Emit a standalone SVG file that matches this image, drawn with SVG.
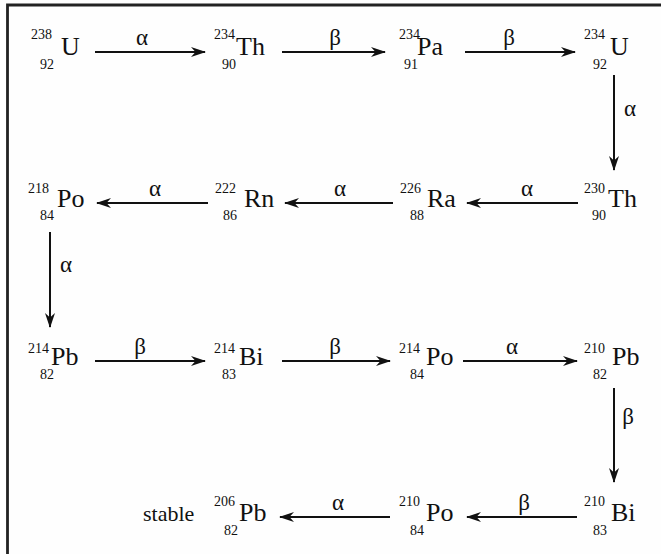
<svg xmlns="http://www.w3.org/2000/svg" width="661" height="554" viewBox="0 0 661 554">
<defs>
<marker id="ah" markerUnits="userSpaceOnUse" markerWidth="15" markerHeight="11" refX="14" refY="5.5" orient="auto">
<path d="M0,0.5 L15,5.5 L0,10.5 L4.5,5.5 Z" fill="#111"/>
</marker>
<style>
.el{font-family:"Liberation Serif",serif;font-size:26px;fill:#111}
.nu{font-family:"Liberation Serif",serif;font-size:14px;fill:#111}
.gr{font-family:"Liberation Serif",serif;font-size:23px;fill:#111;text-anchor:middle}
.ar{stroke:#111;stroke-width:2;fill:none;marker-end:url(#ah)}
</style>
</defs>
<rect width="661" height="554" fill="#fefefe"/>
<path d="M7.5,554 V5 H661" fill="none" stroke="#222" stroke-width="2.8"/>

<g id="U238"><text class="nu" x="31" y="39">238</text><text class="nu" x="40" y="69">92</text><text class="el" x="61" y="55">U</text></g>
<g id="Th234"><text class="nu" x="214" y="39">234</text><text class="nu" x="222" y="69">90</text><text class="el" x="236" y="55">Th</text></g>
<g id="Pa234"><text class="nu" x="399" y="39">234</text><text class="nu" x="404" y="69">91</text><text class="el" x="417" y="55">Pa</text></g>
<g id="U234"><text class="nu" x="584" y="39">234</text><text class="nu" x="593" y="69">92</text><text class="el" x="610" y="55">U</text></g>

<g id="Po218"><text class="nu" x="28" y="193">218</text><text class="nu" x="40" y="220">84</text><text class="el" x="57" y="207">Po</text></g>
<g id="Rn222"><text class="nu" x="215" y="193">222</text><text class="nu" x="223" y="220">86</text><text class="el" x="244" y="207">Rn</text></g>
<g id="Ra226"><text class="nu" x="400" y="193">226</text><text class="nu" x="410" y="220">88</text><text class="el" x="427" y="207">Ra</text></g>
<g id="Th230"><text class="nu" x="584" y="193">230</text><text class="nu" x="592" y="220">90</text><text class="el" x="608" y="207">Th</text></g>

<g id="Pb214"><text class="nu" x="28" y="353">214</text><text class="nu" x="40" y="379">82</text><text class="el" x="51" y="365">Pb</text></g>
<g id="Bi214"><text class="nu" x="214" y="353">214</text><text class="nu" x="222" y="379">83</text><text class="el" x="239" y="365">Bi</text></g>
<g id="Po214"><text class="nu" x="399" y="353">214</text><text class="nu" x="410" y="379">84</text><text class="el" x="426" y="365">Po</text></g>
<g id="Pb210"><text class="nu" x="584" y="353">210</text><text class="nu" x="593" y="379">82</text><text class="el" x="612" y="365">Pb</text></g>

<g id="stable"><text class="el" x="143" y="521" style="font-size:22px">stable</text></g>
<g id="Pb206"><text class="nu" x="214" y="506">206</text><text class="nu" x="224" y="535">82</text><text class="el" x="239" y="521">Pb</text></g>
<g id="Po210"><text class="nu" x="399" y="506">210</text><text class="nu" x="410" y="535">84</text><text class="el" x="426" y="521">Po</text></g>
<g id="Bi210"><text class="nu" x="584" y="506">210</text><text class="nu" x="593" y="535">83</text><text class="el" x="611" y="521">Bi</text></g>

<g id="connectors">
<path class="ar" d="M95,52 H205"/>
<path class="ar" d="M282,52 H385"/>
<path class="ar" d="M465,52 H575"/>
<path class="ar" d="M614,75 V170"/>
<path class="ar" d="M578,203 H467"/>
<path class="ar" d="M393,203 H285"/>
<path class="ar" d="M208,203 H97"/>
<path class="ar" d="M50,232 V327"/>
<path class="ar" d="M95,361 H205"/>
<path class="ar" d="M282,361 H390"/>
<path class="ar" d="M463,361 H577"/>
<path class="ar" d="M614,388 V482"/>
<path class="ar" d="M577,517 H467"/>
<path class="ar" d="M390,517 H280"/>
<text class="gr" x="142" y="45">α</text>
<text class="gr" x="335" y="45">β</text>
<text class="gr" x="509" y="45">β</text>
<text class="gr" x="630" y="116">α</text>
<text class="gr" x="527" y="196">α</text>
<text class="gr" x="340" y="196">α</text>
<text class="gr" x="155" y="196">α</text>
<text class="gr" x="66" y="272">α</text>
<text class="gr" x="140" y="354">β</text>
<text class="gr" x="335" y="354">β</text>
<text class="gr" x="512" y="354">α</text>
<text class="gr" x="628" y="424">β</text>
<text class="gr" x="524" y="510">β</text>
<text class="gr" x="338" y="510">α</text>
</g>
</svg>
